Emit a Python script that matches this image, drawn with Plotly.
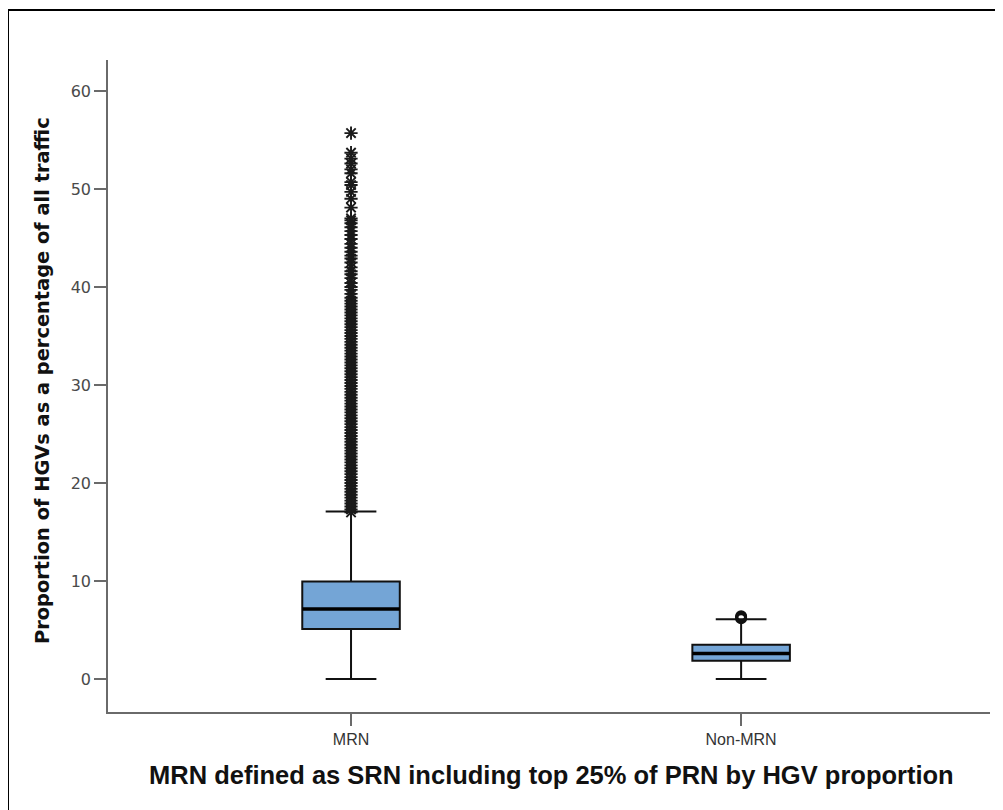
import plotly.graph_objects as go

categories = ["MRN", "Non-MRN"]
q1 = [5.1, 1.85]
median = [7.15, 2.6]
q3 = [9.95, 3.5]
lower_whisker = [0.0, 0.0]
upper_whisker = [17.1, 6.1]

# outliers (extreme values)
mrn_outliers = [
    17.0, 17.3, 17.6, 17.9, 18.2, 18.5, 18.8, 19.1, 19.4, 19.7, 20.0, 20.3, 20.6, 20.9,
    21.2, 21.5, 21.8, 22.1, 22.4, 22.7, 23.0, 23.3, 23.6, 23.9, 24.2, 24.5, 24.8, 25.1,
    25.4, 25.7, 26.0, 26.3, 26.6, 26.9, 27.2, 27.5, 27.8, 28.1, 28.4, 28.7, 29.0, 29.3,
    29.6, 29.9, 30.2, 30.5, 30.8, 31.1, 31.4, 31.7, 32.0, 32.3, 32.6, 32.9, 33.2, 33.5,
    33.8, 34.1, 34.4, 34.7, 35.0, 35.3, 35.6, 35.9, 36.2, 36.5, 36.8, 37.1, 37.4, 37.7,
    38.0, 38.3, 38.6, 38.9,
    39.3, 39.7, 40.0, 40.4, 40.9, 41.3, 41.6, 42.0, 42.5, 42.9, 43.2, 43.6, 44.0, 44.4,
    44.9, 45.3, 45.7, 46.1, 46.5, 46.8,
    47.0, 48.1, 49.0, 49.7, 50.4, 50.7, 51.6, 52.0, 52.6, 53.1, 53.7, 55.7,
]
non_mrn_outliers = [6.2, 6.3, 6.4]

y_ticks = [0, 10, 20, 30, 40, 50, 60]

box_fill = "#74a5d6"

# plot area geometry in figure pixels (page is offset by 8px body margin)
L, T, PW, PH = 100, 52, 882, 652
FW, FH = 995, 802

fig = go.Figure()
for i, cat in enumerate(categories):
    fig.add_trace(go.Box(
        x=[cat], q1=[q1[i]], median=[median[i]], q3=[q3[i]],
        lowerfence=[lower_whisker[i]], upperfence=[upper_whisker[i]],
        width=0.25, whiskerwidth=0.52,
        fillcolor=box_fill,
        line=dict(color="#111111", width=2),
        boxpoints=False, showlegend=False, hoverinfo="skip",
    ))

fig.add_trace(go.Scatter(
    x=[categories[0]] * len(mrn_outliers), y=mrn_outliers, mode="markers",
    marker=dict(symbol="asterisk-open", size=11, color="#1a1a1a",
                line=dict(color="#1a1a1a", width=1.9)),
    showlegend=False, hoverinfo="skip",
))
fig.add_trace(go.Scatter(
    x=[categories[1]] * len(non_mrn_outliers), y=non_mrn_outliers, mode="markers",
    marker=dict(symbol="circle-open", size=9, color="#111111",
                line=dict(color="#111111", width=3)),
    showlegend=False, hoverinfo="skip",
))

# thicker median lines
for i in range(len(categories)):
    fig.add_shape(type="line", xref="x", yref="y",
                  x0=i - 0.125, x1=i + 0.125, y0=median[i], y1=median[i],
                  line=dict(color="#000000", width=3.5))

def px_x(p):
    return (p - L) / PW

def px_y(p):
    return (T + PH - p) / PH

# outer frame
fig.add_shape(type="rect", xref="paper", yref="paper",
              x0=px_x(0), x1=px_x(FW + 10),
              y0=px_y(FH + 10), y1=px_y(2),
              line=dict(color="#000000", width=2), fillcolor="rgba(0,0,0,0)")

fig.update_layout(
    width=FW, height=FH,
    margin=dict(l=L, r=FW - L - PW, t=T, b=FH - T - PH),
    paper_bgcolor="white", plot_bgcolor="white",
    showlegend=False,
    xaxis=dict(
        type="category", range=[-0.623, 1.638],
        showline=True, linecolor="#6a6a6a", linewidth=1.5,
        ticks="outside", ticklen=12, tickcolor="#6a6a6a", tickwidth=1.5,
        tickfont=dict(family="Liberation Sans, Arial", size=16, color="#333333"),
        showgrid=False, zeroline=False, fixedrange=True,
    ),
    yaxis=dict(
        range=[-3.37, 63.16], tickvals=y_ticks,
        showline=True, linecolor="#6a6a6a", linewidth=1.5,
        ticks="outside", ticklen=12, tickcolor="#6a6a6a", tickwidth=1.5,
        tickfont=dict(family="DejaVu Sans", size=16, color="#4a4a4a"),
        showgrid=False, zeroline=False, fixedrange=True,
    ),
    annotations=[
        dict(text="<b>Proportion of HGVs as a percentage of all traffic</b>",
             xref="paper", yref="paper",
             x=px_x(34), y=px_y(373),
             textangle=-90, showarrow=False, xanchor="center", yanchor="middle",
             font=dict(family="DejaVu Sans", size=19.4, color="#111111"),
             ),
        dict(text="<b>MRN defined as SRN including top 25% of PRN by HGV proportion</b>",
             xref="paper", yref="paper",
             x=px_x(543), y=px_y(767),
             showarrow=False, xanchor="center", yanchor="middle",
             font=dict(family="Liberation Sans, Arial", size=25.5, color="#111111"),
             ),
    ],
)

fig.write_html("out.html")
